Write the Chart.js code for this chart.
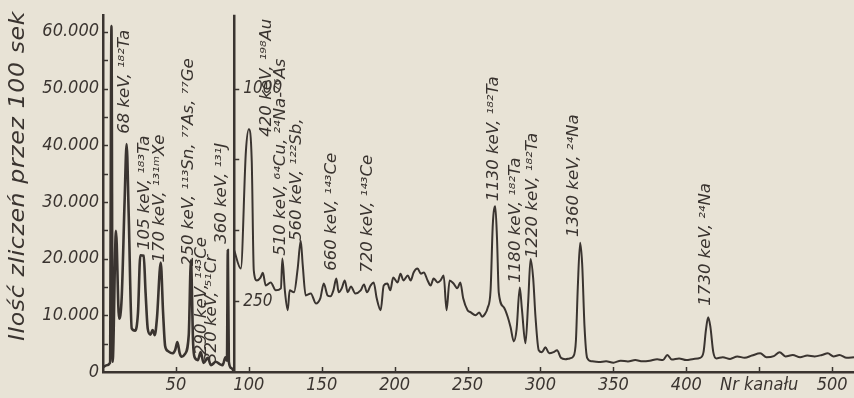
<!DOCTYPE html>
<html>
<head>
<meta charset="utf-8">
<script src="https://cdn.jsdelivr.net/npm/chart.js@4.4.1/dist/chart.umd.min.js"></script>
<style>
  html, body { margin: 0; padding: 0; background: #e8e3d6; }
  #c { display: block; }
</style>
</head>
<body>
<canvas id="c" width="854" height="398"></canvas>
<script>
// Gamma spectrum: counts per 100 s versus channel number.
// Channels 0–90 use the left count scale, channels 90–515 a 50× expanded scale.

const lowChannels = [0, 2.5, 4.8, 5.8, 6.6, 8.9, 11.0, 12.8, 14.8, 16.2, 17.6, 19.7, 22.0, 24.0, 25.6, 27.9,
  29.2, 30.7, 32.5, 34.0, 35.5, 37.0, 39.6, 41.2, 42.6, 44.5, 47.5, 49.5, 51.0, 52.6, 54.0, 56.0,
  58.8, 60.3, 61.8, 63.0, 65.0, 67.0, 69.0, 71.9, 74.0, 77.4, 80.0, 82.0, 84.0, 85.0, 85.6, 86.3, 88.0, 90.0];
const lowCounts = [800, 1200, 1600, 61000, 1800, 24900, 9400, 13000, 30000, 40200, 28000, 7700, 7300, 10500, 20600, 20500,
  14000, 7600, 6600, 7400, 6500, 9500, 19300, 10500, 4600, 3700, 3300, 3900, 5300, 3300, 2700, 3100,
  6500, 19700, 5000, 2500, 2100, 3500, 1600, 2500, 1200, 1800, 1400, 1200, 2600, 2000, 21500, 1800, 700, 0];

const highChannels = [90, 94.5, 98, 100, 102, 103.4, 105.5, 108, 109.6, 111.6, 115, 118.5, 122, 123, 124.7, 126.7,
  128, 131, 133.5, 135.6, 137, 139, 142.5, 146, 149, 151.4, 154, 156, 158, 160, 161.6, 163.7,
  165.8, 167.8, 170, 173, 176.7, 179, 181, 183.5, 185.6, 187.7, 190.4, 192.5, 195, 197, 199, 202,
  204, 206, 209, 211, 213, 215.7, 218, 220, 222.6, 224.7, 226.7, 229.5, 231.5, 233.6, 235.6, 237.7,
  240.4, 243, 245, 247, 250, 252, 255.5, 258, 260, 262, 263.7, 265.8, 267.3, 269.0, 270.2, 271.4,
  274.9, 277.5, 279.5, 281.7, 283.6, 285.8, 287.3, 289.7, 291.6, 293.2, 295.0, 296.6, 298.8, 301, 303.4, 306,
  309, 311.4, 314, 317, 320, 322.5, 324.3, 325.6, 327.2, 328.6, 330.2, 332, 335, 340, 345, 350,
  355, 360, 365, 370, 375, 380, 384, 387, 390, 395, 400, 405, 409.5, 411.8, 413.5, 415,
  416.5, 418.5, 420.5, 425, 430, 435, 440, 445, 450.7, 455, 460, 464, 468, 473, 478, 483,
  488, 493, 497, 501, 505, 510, 515];
const highCounts = [428, 365, 779, 856, 744, 358, 323, 333, 350, 305, 316, 288, 295, 400, 288, 218,
  288, 281, 365, 463, 375, 270, 277, 242, 260, 312, 270, 267, 288, 330, 281, 295,
  323, 281, 302, 277, 288, 309, 281, 305, 316, 260, 218, 305, 312, 288, 333, 316,
  347, 323, 340, 323, 351, 365, 347, 351, 323, 305, 330, 316, 323, 340, 218, 323,
  312, 295, 316, 260, 218, 211, 200, 210, 195, 205, 225, 290, 520, 585, 470, 280,
  228, 195, 158, 108, 150, 298, 220, 101, 250, 399, 330, 193, 77, 70, 87, 66,
  70, 77, 50, 45, 48, 55, 110, 300, 456, 380, 160, 50, 38, 35, 38, 33,
  40, 37, 42, 38, 40, 45, 42, 60, 44, 48, 42, 46, 50, 70, 150, 193,
  160, 70, 48, 52, 46, 55, 50, 58, 66, 52, 56, 70, 55, 60, 52, 58,
  55, 60, 66, 55, 60, 50, 52];

// Axis ranges and tick values
const xTicks = [50, 100, 150, 200, 250, 300, 350, 400, 450, 500];
const leftTicks = [0, 10000, 20000, 30000, 40000, 50000, 60000];
const expandedTicks = [250, 500, 750, 1000];
const expandedLabels = [250, 1000];
const splitChannel = 90;

// Peak identifications: text, channel, count on the scale of that region
const peakTexts = ['68 keV, ¹⁸²Ta', '105 keV, ¹⁸³Ta', '170 keV, ¹³¹ᵐXe', '250 keV, ¹¹³Sn, ⁷⁷As, ⁷⁷Ge',
  '290 keV, ¹⁴³Ce', '320 keV, ⁵¹Cr', '360 keV, ¹³¹J',
  '420 keV, ¹⁹⁸Au', '510 keV, ⁶⁴Cu, ²⁴Na-⁷⁶As', '560 keV, ¹²²Sb,', '660 keV, ¹⁴³Ce', '720 keV, ¹⁴³Ce',
  '1130 keV, ¹⁸²Ta', '1180 keV, ¹⁸²Ta', '1220 keV, ¹⁸²Ta', '1360 keV, ²⁴Na', '1730 keV, ²⁴Na'];
const peakChannels = [15.3, 28.6, 39.2, 58.6, 68.0, 74.8, 81.4,
  112.2, 121.8, 133.2, 157, 181.5, 268, 283.4, 294.6, 323, 413.7];
const peakCounts = [42000, 21500, 19300, 18700, 3000, 1600, 22600,
  830, 410, 462, 357, 350, 602, 315, 402, 476, 234];
const peakScales = ['y', 'y', 'y', 'y', 'y', 'y', 'y',
  'y2', 'y2', 'y2', 'y2', 'y2', 'y2', 'y2', 'y2', 'y2', 'y2'];

const INK = '#3a3430';
const PAPER = '#e8e3d6';
const FONT = '"DejaVu Sans Condensed", "Liberation Sans Narrow", "DejaVu Sans", sans-serif';

const toPoints = (xs, ys) => xs.map((x, i) => ({ x: x, y: ys[i] }));

// Upright-reading text turned 90°, stretched along its run for tall lettering
function drawUpward(ctx, text, x, y, stretch, align) {
  ctx.save();
  ctx.translate(x, y);
  ctx.rotate(-Math.PI / 2);
  ctx.scale(stretch, 1);
  ctx.textAlign = align;
  ctx.textBaseline = 'middle';
  ctx.fillText(text, 0, 0);
  ctx.restore();
}

const decorations = {
  id: 'decorations',
  beforeDraw(chart) {
    const ctx = chart.ctx;
    ctx.save();
    ctx.fillStyle = PAPER;
    ctx.fillRect(0, 0, chart.width, chart.height);
    ctx.restore();
  },
  afterDraw(chart) {
    const ctx = chart.ctx;
    const xs = chart.scales.x, ys = chart.scales.y, y2 = chart.scales.y2;
    const area = chart.chartArea;
    ctx.save();
    ctx.strokeStyle = INK;
    ctx.fillStyle = INK;

    // inward tick marks on the left count axis (every 5000)
    ctx.lineWidth = 1.5;
    for (let v = 5000; v < ys.max; v += 5000) {
      const py = Math.round(ys.getPixelForValue(v)) + 0.5;
      ctx.beginPath(); ctx.moveTo(area.left, py); ctx.lineTo(area.left + 5, py); ctx.stroke();
    }
    // inward tick marks on the channel axis
    xTicks.forEach(v => {
      const px = Math.round(xs.getPixelForValue(v)) + 0.5;
      ctx.beginPath(); ctx.moveTo(px, area.bottom); ctx.lineTo(px, area.bottom - 5); ctx.stroke();
    });

    // expanded-scale axis standing at the split channel
    const ax = xs.getPixelForValue(splitChannel);
    ctx.lineWidth = 2.5;
    ctx.beginPath(); ctx.moveTo(ax, area.top); ctx.lineTo(ax, area.bottom); ctx.stroke();
    ctx.lineWidth = 1.5;
    expandedTicks.forEach(v => {
      const py = Math.round(y2.getPixelForValue(v)) + 0.5;
      ctx.beginPath(); ctx.moveTo(ax, py); ctx.lineTo(ax + 5, py); ctx.stroke();
    });
    ctx.font = 'italic 17px ' + FONT;
    ctx.textAlign = 'left';
    ctx.textBaseline = 'middle';
    expandedLabels.forEach(v => {
      ctx.fillText(String(v), ax + 9, y2.getPixelForValue(v));
    });

    // vertical axis title
    ctx.font = 'italic 21px ' + FONT;
    ctx.letterSpacing = '0.5px';
    drawUpward(ctx, 'Ilość zliczeń przez 100 sek', 19, 176, 1.25, 'center');

    // peak identifications, written upward
    ctx.font = 'italic 16px ' + FONT;
    ctx.letterSpacing = '0px';
    peakTexts.forEach((t, i) => {
      const px = xs.getPixelForValue(peakChannels[i]);
      const py = chart.scales[peakScales[i]].getPixelForValue(peakCounts[i]);
      drawUpward(ctx, t, px, py, 1.15, 'left');
    });
    ctx.restore();
  }
};

new Chart(document.getElementById('c'), {
  type: 'line',
  data: {
    datasets: [
      {
        data: toPoints(lowChannels, lowCounts),
        yAxisID: 'y',
        borderColor: INK,
        borderWidth: 2.6,
        pointRadius: 0,
        cubicInterpolationMode: 'monotone',
        fill: false
      },
      {
        data: toPoints(highChannels, highCounts),
        yAxisID: 'y2',
        borderColor: INK,
        borderWidth: 2,
        pointRadius: 0,
        cubicInterpolationMode: 'monotone',
        fill: false
      }
    ]
  },
  options: {
    responsive: false,
    animation: false,
    layout: { padding: { top: 12, right: 0, bottom: 0, left: 0 } },
    plugins: { legend: { display: false }, tooltip: { enabled: false } },
    scales: {
      x: {
        type: 'linear',
        min: 0,
        max: 515,
        afterFit(s) { s.height = 26; },
        grid: { display: false, drawTicks: false },
        border: { display: true, color: INK, width: 2.5 },
        afterBuildTicks(s) { s.ticks = xTicks.map(v => ({ value: v })); },
        ticks: {
          autoSkip: false,
          maxRotation: 0,
          padding: 3,
          color: INK,
          font: { family: FONT, size: 18, style: 'italic' },
          callback: v => (v === 450 ? 'Nr kanału' : String(v))
        }
      },
      y: {
        position: 'left',
        min: 0,
        max: 63000,
        afterFit(s) { s.width = 103; },
        grid: { display: false, drawTicks: false },
        border: { display: true, color: INK, width: 2.5 },
        afterBuildTicks(s) { s.ticks = leftTicks.map(v => ({ value: v })); },
        ticks: {
          padding: 4,
          color: INK,
          font: { family: FONT, size: 18, style: 'italic' },
          callback: v => (v === 0 ? '0' : (v / 1000) + '.000')
        }
      },
      y2: {
        display: false,
        min: 0,
        max: 1260
      }
    }
  },
  plugins: [decorations]
});
</script>
</body>
</html>
